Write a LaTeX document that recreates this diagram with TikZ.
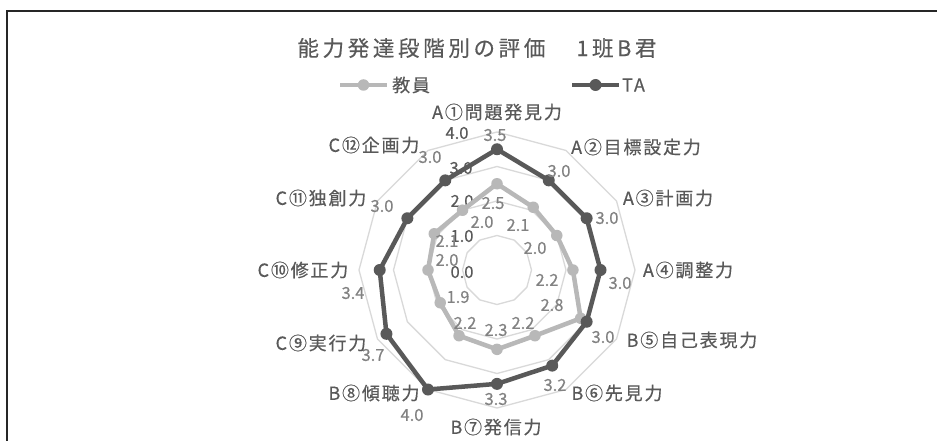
\documentclass[tikz,border=0pt]{standalone}
\usepackage{fontspec}
\setmainfont{Noto Sans CJK JP}
\newfontfamily\catfont[LetterSpace=10,FakeBold=0.4]{Noto Sans CJK JP}
\newfontfamily\ttlfont[LetterSpace=17,FakeBold=0.4]{Noto Sans CJK JP}
\newfontfamily\numfont[FakeBold=0.3]{Noto Sans CJK JP}
\definecolor{tacol}{HTML}{595959}
\definecolor{tecol}{HTML}{B8B8B8}
\definecolor{gridcol}{HTML}{D9D9D9}
\definecolor{txtcol}{HTML}{595959}
\definecolor{dlcol}{HTML}{828282}
\tikzset{
  frameline/.style={line width=2pt, draw=black!85},
  ring/.style={draw=gridcol, line width=1.3pt, line join=round},
  taline/.style={draw=tacol, line width=4.5pt, line join=round},
  teline/.style={draw=tecol, line width=4.5pt, line join=round},
  tamark/.style={circle, fill=tacol, inner sep=0pt, minimum size=12pt},
  temark/.style={circle, fill=tecol, inner sep=0pt, minimum size=11.5pt},
  catlabel/.style={text=txtcol, inner sep=0pt, font=\catfont\fontsize{18}{21}\selectfont},
  titlelabel/.style={text=txtcol, inner sep=0pt, font=\ttlfont\fontsize{21.5}{25}\selectfont},
  axislabel/.style={text=txtcol, inner sep=0pt, font=\numfont\fontsize{16.5}{19}\selectfont},
  datalabel/.style={text=dlcol, inner sep=0pt, font=\numfont\fontsize{16.5}{19}\selectfont}
}
\begin{document}
\begin{tikzpicture}[x=1pt,y=-1pt]
\useasboundingbox (0,0) rectangle (937,441);
\fill[white] (0,0) rectangle (937,441);
\draw[frameline] (7,442) -- (7,11) -- (938,11);

% title
\node[titlelabel] (title) at (477,48) {能力発達段階別の評価　\hspace{6pt}1班B君};

% legend
\coordinate (leA) at (340,85);
\coordinate (leB) at (387,85);
\draw[teline] (leA) -- (leB);
\node[temark] (lem) at (363.5,85) {};
\node[catlabel, anchor=west] (letext) at (392,85) {教員};
\coordinate (ltA) at (572,85);
\coordinate (ltB) at (619,85);
\draw[taline] (ltA) -- (ltB);
\node[tamark] (ltm) at (595.5,85) {};
\node[catlabel, anchor=west] (lttext) at (622,85) {TA};

% grid rings
\foreach \r in {1,2,3,4}{
  \draw[ring] plot[samples at={0,30,...,330}] ({497+34.5*\r*sin(\x)},{270-34.5*\r*cos(\x)}) -- cycle;
}

% axis labels
\node[axislabel] (ax4) at (457,133) {4.0};
\node[axislabel] (ax3) at (461,168) {3.0};
\node[axislabel] (ax2) at (462,201) {2.0};
\node[axislabel] (ax1) at (462,236) {1.0};
\node[axislabel] (ax0) at (462,272) {0.0};

% data coordinates
\foreach \i/\v/\w in {1/3.5/2.5, 2/3.0/2.1, 3/3.0/2.0, 4/3.0/2.2, 5/3.0/2.8, 6/3.2/2.2,
                      7/3.3/2.3, 8/4.0/2.2, 9/3.7/1.9, 10/3.4/2.0, 11/3.0/2.1, 12/3.0/2.0}{
  \coordinate (T\i) at ({497+34.5*\v*sin((\i-1)*30)},{270-34.5*\v*cos((\i-1)*30)});
  \coordinate (E\i) at ({497+34.5*\w*sin((\i-1)*30)},{270-34.5*\w*cos((\i-1)*30)});
}

% series lines
\draw[teline] (E1) -- (E2) -- (E3) -- (E4) -- (E5) -- (E6) -- (E7) -- (E8) -- (E9) -- (E10) -- (E11) -- (E12) -- cycle;
\draw[taline] (T1) -- (T2) -- (T3) -- (T4) -- (T5) -- (T6) -- (T7) -- (T8) -- (T9) -- (T10) -- (T11) -- (T12) -- cycle;

% markers
\foreach \i in {1,...,12}{
  \node[temark] (EM\i) at (E\i) {};
  \node[tamark] (TM\i) at (T\i) {};
}

% data labels TA
\node[datalabel] (tl1) at (495,135) {3.5};
\node[datalabel] (tl2) at (559,171) {3.0};
\node[datalabel] (tl3) at (607,218) {3.0};
\node[datalabel] (tl4) at (620,283) {3.0};
\node[datalabel] (tl5) at (603,337) {3.0};
\node[datalabel] (tl6) at (555,385) {3.2};
\node[datalabel] (tl7) at (496,399) {3.3};
\node[datalabel] (tl8) at (412,415) {4.0};
\node[datalabel] (tl9) at (373,355) {3.7};
\node[datalabel] (tl10) at (353,293) {3.4};
\node[datalabel] (tl11) at (382,206) {3.0};
\node[datalabel] (tl12) at (430,157) {3.0};

% data labels teacher
\node[datalabel] (el1) at (493,203) {2.5};
\node[datalabel] (el2) at (518,225) {2.1};
\node[datalabel] (el3) at (535,248) {2.0};
\node[datalabel] (el4) at (547,280) {2.2};
\node[datalabel] (el5) at (552,305) {2.8};
\node[datalabel] (el6) at (523,323) {2.2};
\node[datalabel] (el7) at (496,330) {2.3};
\node[datalabel] (el8) at (465,323) {2.2};
\node[datalabel] (el9) at (458,297) {1.9};
\node[datalabel] (el10) at (447,260) {2.0};
\node[datalabel] (el11) at (447,241) {2.1};
\node[datalabel] (el12) at (482,222) {2.0};

% category labels
\node[catlabel] (c1) at (497,112) {A①問題発見力};
\node[catlabel] (c2) at (636,147) {A②目標設定力};
\node[catlabel] (c3) at (668,198) {A③計画力};
\node[catlabel] (c4) at (688,270) {A④調整力};
\node[catlabel] (c5) at (692,340) {B⑤自己表現力};
\node[catlabel] (c6) at (617,393) {B⑥先見力};
\node[catlabel] (c7) at (496,427) {B⑦発信力};
\node[catlabel] (c8) at (374,393) {B⑧傾聴力};
\node[catlabel] (c9) at (321,343) {C⑨実行力};
\node[catlabel] (c10) at (303,270) {C⑩修正力};
\node[catlabel] (c11) at (321,198) {C⑪独創力};
\node[catlabel] (c12) at (374,145) {C⑫企画力};
\end{tikzpicture}
\end{document}
